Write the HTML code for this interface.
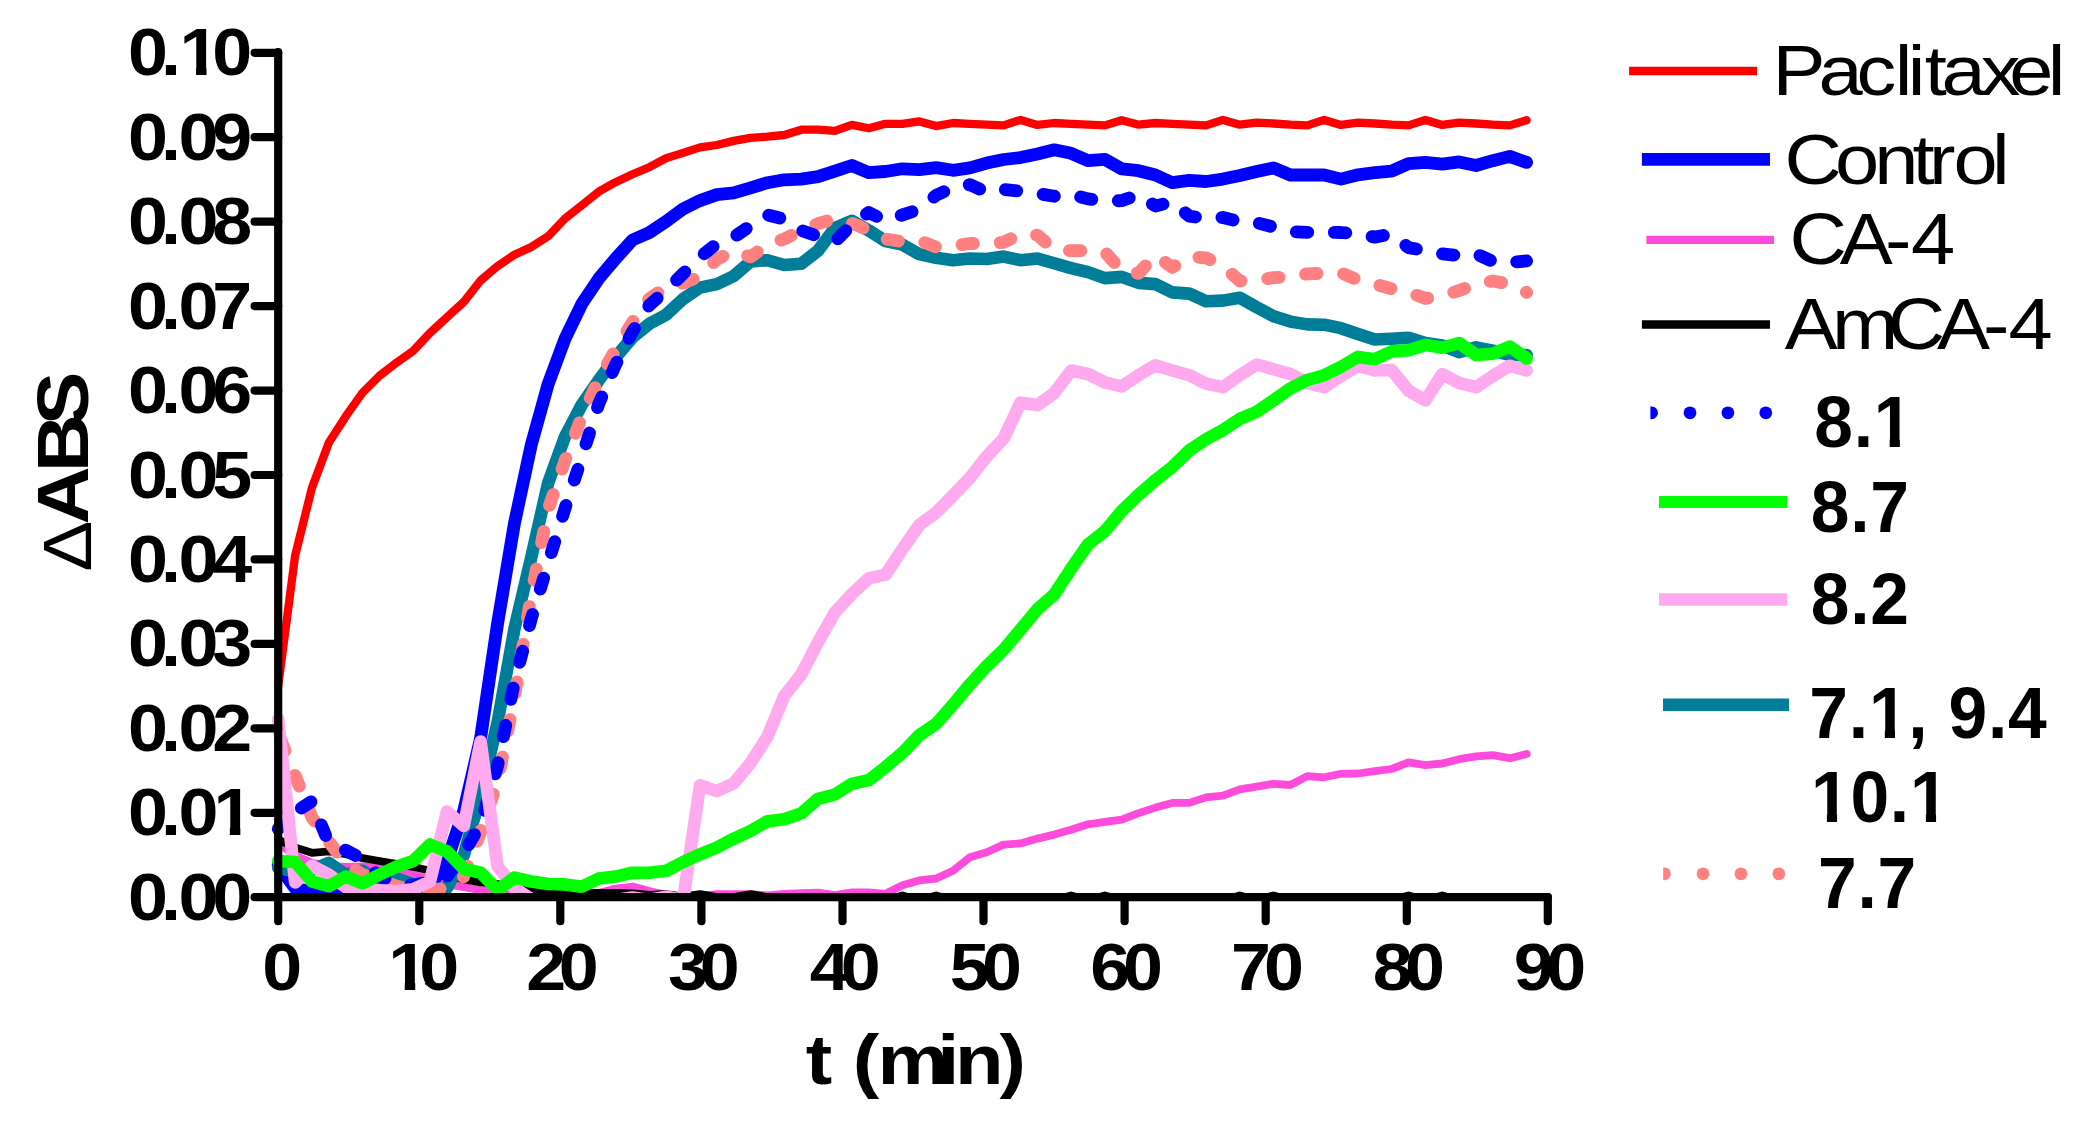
<!DOCTYPE html>
<html lang="en"><head><meta charset="utf-8"><title>Tubulin polymerization</title>
<style>html,body{margin:0;padding:0;background:#fff}body{width:2096px;height:1132px;overflow:hidden}svg{display:block}text{font-family:"Liberation Sans",sans-serif;fill:#000;white-space:pre}</style></head><body>
<svg width="2096" height="1132" viewBox="0 0 2096 1132">
<rect width="2096" height="1132" fill="#fff"/>
<clipPath id="plot"><rect x="0" y="0" width="2096" height="900.5"/></clipPath>
<g fill="none" stroke-linejoin="round" stroke-linecap="round" clip-path="url(#plot)">
<polyline id="c-red" stroke="#ff0000" stroke-width="8.3" points="278.2,686.0 295.1,555.8 311.9,488.0 328.8,442.7 345.7,416.4 362.6,392.6 379.4,375.9 396.3,362.8 413.2,350.8 430.0,332.9 446.9,317.4 463.8,301.9 480.6,280.5 497.5,266.2 514.4,254.7 531.2,247.1 548.1,236.3 565.0,218.5 581.9,205.3 598.7,191.7 615.6,182.2 632.5,174.3 649.3,167.2 666.2,158.1 683.1,152.9 700.0,147.4 716.8,145.0 733.7,140.9 750.6,137.8 767.4,136.6 784.3,135.0 801.2,129.7 818.0,129.7 834.9,130.9 851.8,124.9 868.7,128.3 885.5,123.8 902.4,123.8 919.3,121.4 936.1,126.1 953.0,123.0 969.9,123.8 986.7,124.7 1003.6,125.4 1020.5,119.9 1037.4,124.9 1054.2,123.0 1071.1,123.8 1088.0,124.7 1104.8,125.4 1121.7,120.2 1138.6,124.7 1155.4,123.0 1172.3,123.8 1189.2,124.7 1206.0,125.4 1222.9,119.9 1239.8,124.7 1256.7,122.6 1273.5,123.5 1290.4,124.7 1307.3,125.4 1324.1,119.9 1341.0,124.9 1357.9,122.6 1374.8,123.5 1391.6,124.7 1408.5,125.4 1425.4,119.9 1442.2,124.9 1459.1,122.6 1476.0,123.5 1492.8,124.7 1509.7,125.4 1526.6,120.2"/>
<polyline id="c-mag" stroke="#ff4bdc" stroke-width="7.8" points="278.2,843.5 295.1,855.2 311.9,862.9 328.8,865.9 345.7,866.8 362.6,866.4 379.4,867.8 396.3,870.7 413.2,874.6 430.0,879.5 446.9,884.3 463.8,887.2 480.6,890.2 497.5,892.1 514.4,896.0 531.2,896.0 548.1,896.0 565.0,896.0 581.9,896.0 598.7,893.0 615.6,888.5 632.5,886.5 649.3,891.0 666.2,895.0 683.1,896.5 700.0,896.0 716.8,894.2 733.7,894.2 750.6,894.2 767.4,895.5 784.3,893.8 801.2,893.1 818.0,892.6 834.9,895.0 851.8,892.4 868.7,892.4 885.5,893.8 902.4,885.2 919.3,880.4 936.1,878.5 953.0,870.8 969.9,857.2 986.7,852.2 1003.6,844.6 1020.5,843.4 1037.4,838.6 1054.2,834.6 1071.1,829.8 1088.0,824.3 1104.8,821.9 1121.7,819.6 1138.6,813.1 1155.4,807.6 1172.3,802.9 1189.2,802.9 1206.0,797.4 1222.9,795.7 1239.8,789.3 1256.7,786.6 1273.5,783.8 1290.4,785.0 1307.3,776.1 1324.1,777.3 1341.0,773.8 1357.9,773.5 1374.8,771.1 1391.6,769.0 1408.5,762.3 1425.4,765.2 1442.2,763.5 1459.1,759.2 1476.0,756.3 1492.8,755.1 1509.7,758.2 1526.6,754.0"/>
<polyline id="c-black" stroke="#000000" stroke-width="7.8" points="278.2,839.6 295.1,847.4 311.9,852.8 328.8,851.3 345.7,854.2 362.6,858.1 379.4,861.0 396.3,863.9 413.2,866.8 430.0,870.7 446.9,875.6 463.8,879.5 480.6,882.4 497.5,884.0 514.4,887.0 531.2,889.0 548.1,890.5 565.0,892.0 581.9,893.0 598.7,893.0 615.6,892.8 632.5,893.5 649.3,895.0 666.2,894.0 683.1,896.5 700.0,894.2 716.8,897.0 733.7,897.0 750.6,894.2 767.4,897.0 784.3,897.0 801.2,897.0 818.0,897.0 834.9,897.0 851.8,897.0 868.7,897.0 885.5,897.0 895.9,897.2 902.4,895.5 908.9,897.2 919.3,897.0 929.6,897.2 936.1,895.5 942.6,897.2 953.0,897.0 969.9,897.0 986.7,897.0 1003.6,897.0 1020.5,897.0 1037.4,897.0 1054.2,897.0 1064.6,897.2 1071.1,895.5 1077.6,897.2 1088.0,897.0 1098.3,897.2 1104.8,895.5 1111.3,897.2 1121.7,897.0 1138.6,897.0 1155.4,897.0 1172.3,897.0 1189.2,897.0 1206.0,897.0 1222.9,897.0 1233.3,897.2 1239.8,895.5 1246.3,897.2 1256.7,897.0 1267.0,897.2 1273.5,895.5 1280.0,897.2 1290.4,897.0 1307.3,897.0 1324.1,897.0 1341.0,897.0 1357.9,897.0 1374.8,897.0 1391.6,897.0 1402.0,897.2 1408.5,895.5 1415.0,897.2 1425.4,897.0 1435.7,897.2 1442.2,895.5 1448.7,897.2 1459.1,897.0 1476.0,897.0 1492.8,897.0 1509.7,897.0 1526.6,897.0"/>
<polyline id="c-blue" stroke="#0000ff" stroke-width="12.8" points="278.2,864.9 295.1,888.2 311.9,892.1 328.8,892.5 345.7,892.5 362.6,892.5 379.4,892.5 396.3,892.1 413.2,891.1 430.0,886.3 446.9,861.0 463.8,810.5 480.6,738.0 497.5,624.0 514.4,523.6 531.2,445.1 548.1,384.2 565.0,338.8 581.9,303.7 598.7,278.7 615.6,258.6 632.5,240.0 649.3,232.6 666.2,221.4 683.1,208.9 700.0,200.6 716.8,194.6 733.7,192.9 750.6,187.9 767.4,182.7 784.3,179.8 801.2,179.1 818.0,176.7 834.9,171.2 851.8,165.5 868.7,172.7 885.5,171.5 902.4,168.8 919.3,169.6 936.1,167.6 953.0,170.3 969.9,167.9 986.7,163.1 1003.6,159.5 1020.5,157.6 1037.4,154.0 1054.2,149.8 1071.1,153.3 1088.0,160.7 1104.8,159.3 1121.7,168.8 1138.6,170.7 1155.4,175.0 1172.3,182.7 1189.2,180.3 1206.0,181.5 1222.9,179.1 1239.8,175.5 1256.7,171.5 1273.5,167.9 1290.4,175.0 1307.3,174.8 1324.1,175.0 1341.0,179.1 1357.9,174.8 1374.8,172.7 1391.6,171.2 1408.5,163.6 1425.4,162.4 1442.2,164.1 1459.1,161.9 1476.0,165.5 1492.8,160.7 1509.7,156.4 1526.6,162.4"/>
<polyline id="c-teal" stroke="#007d99" stroke-width="12.6" points="278.2,867.8 295.1,871.7 311.9,869.8 328.8,862.9 345.7,874.6 362.6,870.7 379.4,882.4 396.3,878.5 413.2,884.3 430.0,890.2 446.9,888.2 463.8,855.2 480.6,795.0 497.5,723.0 514.4,629.0 531.2,557.7 548.1,483.2 565.0,436.7 581.9,404.5 598.7,380.3 615.6,357.4 632.5,337.4 649.3,323.8 666.2,314.7 683.1,299.0 700.0,287.6 716.8,284.1 733.7,276.1 750.6,261.5 767.4,260.2 784.3,265.0 801.2,263.8 818.0,250.7 834.9,228.0 851.8,220.8 868.7,230.4 885.5,241.1 902.4,244.7 919.3,254.2 936.1,257.8 953.0,260.2 969.9,258.5 986.7,259.0 1003.6,256.6 1020.5,260.2 1037.4,258.5 1054.2,263.3 1071.1,268.1 1088.0,272.1 1104.8,278.1 1121.7,276.9 1138.6,282.9 1155.4,284.1 1172.3,292.4 1189.2,293.6 1206.0,301.3 1222.9,300.6 1239.8,297.7 1256.7,307.3 1273.5,316.3 1290.4,321.6 1307.3,324.4 1324.1,324.7 1341.0,328.2 1357.9,334.0 1374.8,339.5 1391.6,338.7 1408.5,337.8 1425.4,343.0 1442.2,345.4 1459.1,352.1 1476.0,347.3 1492.8,350.7 1509.7,355.0 1526.6,355.0"/>
<polyline id="c-salmon" stroke="#ff8080" stroke-width="12.8" stroke-dasharray="11.5 26.75" stroke-dashoffset="31.6" points="278.2,733.7 295.1,775.5 311.9,817.3 328.8,841.6 345.7,863.9 362.6,874.6 379.4,880.0 396.3,886.0 413.2,890.0 430.0,890.0 446.9,888.0 463.8,876.6 480.6,831.9 497.5,781.7 514.4,697.7 531.2,595.1 548.1,509.5 565.0,460.6 581.9,416.4 598.7,379.5 615.6,349.5 632.5,322.3 649.3,298.7 666.2,287.3 683.1,283.0 700.0,276.5 716.8,259.4 733.7,250.8 750.6,256.9 767.4,244.7 784.3,239.0 801.2,230.4 818.0,223.7 834.9,218.5 851.8,223.2 868.7,230.4 885.5,239.0 902.4,241.6 919.3,240.4 936.1,247.1 953.0,245.9 969.9,243.5 986.7,243.5 1003.6,242.3 1020.5,234.0 1037.4,235.2 1054.2,249.5 1071.1,250.7 1088.0,250.7 1104.8,251.9 1121.7,270.9 1138.6,273.3 1155.4,255.4 1172.3,267.4 1189.2,256.6 1206.0,257.8 1222.9,266.2 1239.8,281.0 1256.7,280.5 1273.5,277.6 1290.4,276.9 1307.3,273.8 1324.1,273.3 1341.0,272.8 1357.9,280.0 1374.8,284.1 1391.6,288.8 1408.5,292.4 1425.4,298.4 1442.2,296.0 1459.1,290.5 1476.0,284.1 1492.8,281.0 1509.7,284.1 1526.6,292.4"/>
<polyline id="c-bdash" stroke="#0000ff" stroke-width="12.8" stroke-dasharray="11.5 26.55" stroke-dashoffset="6.8" points="278.2,828.9 295.1,812.0 311.9,801.2 328.8,843.5 345.7,850.3 362.6,859.1 379.4,876.6 396.3,882.4 413.2,885.3 430.0,881.4 446.9,876.6 463.8,853.2 480.6,824.1 497.5,766.2 514.4,682.2 531.2,619.0 548.1,563.4 565.0,508.3 581.9,457.0 598.7,404.0 615.6,364.6 632.5,331.6 649.3,305.2 666.2,290.1 683.1,273.7 700.0,257.2 716.8,243.6 733.7,237.2 750.6,225.7 767.4,214.9 784.3,219.2 801.2,230.4 818.0,236.3 834.9,241.8 851.8,224.4 868.7,212.5 885.5,220.8 902.4,214.9 919.3,209.4 936.1,195.3 953.0,187.4 969.9,184.6 986.7,192.2 1003.6,189.4 1020.5,191.3 1037.4,193.4 1054.2,196.3 1071.1,194.6 1088.0,198.9 1104.8,201.3 1121.7,200.6 1138.6,194.6 1155.4,206.0 1172.3,201.8 1189.2,216.1 1206.0,218.5 1222.9,217.5 1239.8,221.6 1256.7,222.7 1273.5,227.0 1290.4,231.6 1307.3,232.3 1324.1,232.3 1341.0,232.5 1357.9,234.0 1374.8,237.1 1391.6,234.0 1408.5,247.6 1425.4,250.7 1442.2,253.8 1459.1,255.7 1476.0,253.8 1492.8,261.4 1509.7,262.6 1526.6,260.9"/>
<polyline id="c-pink" stroke="#ffaaee" stroke-width="12.6" points="278.2,719.1 295.1,882.4 311.9,865.9 328.8,874.6 345.7,887.2 362.6,889.2 379.4,890.2 396.3,891.1 413.2,889.2 430.0,881.4 446.9,811.5 463.8,826.0 480.6,741.5 497.5,866.0 514.4,888.0 531.2,899.0 548.1,900.0 565.0,900.0 581.9,900.0 598.7,900.0 615.6,900.0 632.5,897.5 649.3,900.0 666.2,896.8 683.1,900.0 700.0,785.3 716.8,791.1 733.7,783.3 750.6,762.9 767.4,736.7 784.3,695.8 801.2,674.4 818.0,642.2 834.9,612.4 851.8,594.0 868.7,578.3 885.5,574.7 902.4,549.2 919.3,524.8 936.1,512.7 953.0,495.5 969.9,477.8 986.7,456.3 1003.6,438.5 1020.5,402.7 1037.4,405.1 1054.2,393.1 1071.1,370.5 1088.0,374.0 1104.8,382.4 1121.7,386.5 1138.6,375.2 1155.4,365.2 1172.3,370.5 1189.2,375.2 1206.0,383.6 1222.9,387.2 1239.8,375.2 1256.7,364.5 1273.5,369.3 1290.4,374.0 1307.3,383.1 1324.1,387.2 1341.0,376.0 1357.9,365.7 1374.8,370.5 1391.6,370.0 1408.5,390.7 1425.4,400.3 1442.2,374.0 1459.1,383.1 1476.0,387.2 1492.8,376.0 1509.7,365.7 1526.6,370.5"/>
<polyline id="c-green" stroke="#00ff00" stroke-width="12.6" points="278.2,861.0 295.1,862.0 311.9,881.4 328.8,886.3 345.7,876.6 362.6,883.4 379.4,874.6 396.3,866.8 413.2,861.0 430.0,844.5 446.9,851.3 463.8,868.8 480.6,872.7 497.5,890.2 514.4,877.6 531.2,881.5 548.1,884.0 565.0,884.4 581.9,886.7 598.7,878.6 615.6,876.6 632.5,872.7 649.3,872.7 666.2,870.8 683.1,862.0 700.0,854.3 716.8,847.5 733.7,838.7 750.6,830.9 767.4,821.2 784.3,819.3 801.2,813.4 818.0,798.8 834.9,794.5 851.8,783.8 868.7,780.2 885.5,767.1 902.4,752.8 919.3,735.2 936.1,723.8 953.0,704.7 969.9,684.4 986.7,666.1 1003.6,649.8 1020.5,629.6 1037.4,609.3 1054.2,594.5 1071.1,568.7 1088.0,544.4 1104.8,531.3 1121.7,511.0 1138.6,494.8 1155.4,480.2 1172.3,467.1 1189.2,450.4 1206.0,439.2 1222.9,430.1 1239.8,418.9 1256.7,411.7 1273.5,400.3 1290.4,388.4 1307.3,380.0 1324.1,375.2 1341.0,366.9 1357.9,356.9 1374.8,359.3 1391.6,351.4 1408.5,350.2 1425.4,344.9 1442.2,347.8 1459.1,343.0 1476.0,355.0 1492.8,353.8 1509.7,346.6 1526.6,358.5"/>
</g>
<g stroke="#000" stroke-width="8.2" stroke-linecap="round" fill="none">
<path d="M278.2 52.0 V921.2"/>
<path d="M278.2 897.2 H1547.8"/>
<path d="M254.6 897.2 H278.2"/>
<path d="M254.6 812.8 H278.2"/>
<path d="M254.6 728.3 H278.2"/>
<path d="M254.6 643.9 H278.2"/>
<path d="M254.6 559.4 H278.2"/>
<path d="M254.6 475.0 H278.2"/>
<path d="M254.6 390.6 H278.2"/>
<path d="M254.6 306.1 H278.2"/>
<path d="M254.6 221.7 H278.2"/>
<path d="M254.6 137.2 H278.2"/>
<path d="M254.6 52.8 H278.2"/>
<path d="M419.3 897.2 V921.2"/>
<path d="M560.3 897.2 V921.2"/>
<path d="M701.4 897.2 V921.2"/>
<path d="M842.5 897.2 V921.2"/>
<path d="M983.5 897.2 V921.2"/>
<path d="M1124.6 897.2 V921.2"/>
<path d="M1265.7 897.2 V921.2"/>
<path d="M1406.8 897.2 V921.2"/>
<path d="M1547.8 897.2 V921.2"/>
</g>
<text transform="matrix(1.0830 0 0 1 0 919.80)" x="118.10 148.76 164.92 195.95" y="0" font-size="66.30" font-weight="bold" >0.00</text>
<clipPath id="k1"><path clip-rule="evenodd" d="M-5000 -5000H5000V5000H-5000ZM199.90 -8.09L212.24 -8.09L212.24 1.99L199.90 1.99ZM221.92 -8.09L233.39 -8.09L233.39 1.99L221.92 1.99Z"/></clipPath><text transform="matrix(1.0830 0 0 1 0 835.36)" x="118.10 148.76 164.92 197.05" y="0" font-size="66.30" font-weight="bold"  clip-path="url(#k1)">0.01</text>
<text transform="matrix(1.0830 0 0 1 0 750.92)" x="118.10 148.76 164.92 195.95" y="0" font-size="66.30" font-weight="bold" >0.02</text>
<text transform="matrix(1.0830 0 0 1 0 666.48)" x="118.10 148.76 164.92 195.95" y="0" font-size="66.30" font-weight="bold" >0.03</text>
<text transform="matrix(1.0830 0 0 1 0 582.04)" x="118.10 148.76 164.92 195.95" y="0" font-size="66.30" font-weight="bold" >0.04</text>
<text transform="matrix(1.0830 0 0 1 0 497.60)" x="118.10 148.76 164.92 195.95" y="0" font-size="66.30" font-weight="bold" >0.05</text>
<text transform="matrix(1.0830 0 0 1 0 413.16)" x="118.10 148.76 164.92 195.95" y="0" font-size="66.30" font-weight="bold" >0.06</text>
<text transform="matrix(1.0830 0 0 1 0 328.72)" x="118.10 148.76 164.92 195.95" y="0" font-size="66.30" font-weight="bold" >0.07</text>
<text transform="matrix(1.0830 0 0 1 0 244.28)" x="118.10 148.76 164.92 195.95" y="0" font-size="66.30" font-weight="bold" >0.08</text>
<text transform="matrix(1.0830 0 0 1 0 159.84)" x="118.10 148.76 164.92 195.95" y="0" font-size="66.30" font-weight="bold" >0.09</text>
<clipPath id="k2"><path clip-rule="evenodd" d="M-5000 -5000H5000V5000H-5000ZM168.69 -8.09L181.03 -8.09L181.03 1.99L168.69 1.99ZM190.70 -8.09L200.17 -8.09L202.17 -3.98L202.17 -1.33L202.17 -0.00L202.17 0.80L202.17 1.99L190.70 1.99Z"/></clipPath><text transform="matrix(1.0830 0 0 1 0 75.40)" x="118.10 148.76 165.84 195.95" y="0" font-size="66.30" font-weight="bold"  clip-path="url(#k2)">0.10</text>
<text transform="matrix(1.0830 0 0 1 0 990.20)" x="242.15" y="0" font-size="66.30" font-weight="bold" >0</text>
<clipPath id="k3"><path clip-rule="evenodd" d="M-5000 -5000H5000V5000H-5000ZM361.41 -8.09L373.74 -8.09L373.74 1.99L361.41 1.99ZM383.42 -8.09L391.31 -8.09L393.76 -3.98L394.89 -1.33L394.89 -0.00L394.89 0.80L394.89 1.99L383.42 1.99Z"/></clipPath><text transform="matrix(1.0830 0 0 1 0 990.20)" x="358.56 387.09" y="0" font-size="66.30" font-weight="bold"  clip-path="url(#k3)">10</text>
<text transform="matrix(1.0830 0 0 1 0 990.20)" x="485.85 515.86" y="0" font-size="66.30" font-weight="bold" >20</text>
<text transform="matrix(1.0830 0 0 1 0 990.20)" x="616.89 646.12" y="0" font-size="66.30" font-weight="bold" >30</text>
<text transform="matrix(1.0830 0 0 1 0 990.20)" x="747.67 776.39" y="0" font-size="66.30" font-weight="bold" >40</text>
<text transform="matrix(1.0830 0 0 1 0 990.20)" x="876.90 906.65" y="0" font-size="66.30" font-weight="bold" >50</text>
<text transform="matrix(1.0830 0 0 1 0 990.20)" x="1006.77 1036.91" y="0" font-size="66.30" font-weight="bold" >60</text>
<text transform="matrix(1.0830 0 0 1 0 990.20)" x="1136.62 1167.18" y="0" font-size="66.30" font-weight="bold" >70</text>
<text transform="matrix(1.0830 0 0 1 0 990.20)" x="1267.62 1297.44" y="0" font-size="66.30" font-weight="bold" >80</text>
<text transform="matrix(1.0830 0 0 1 0 990.20)" x="1397.69 1427.71" y="0" font-size="66.30" font-weight="bold" >90</text>
<text transform="matrix(1.1357 0 0 1 0 1084.00)" x="709.45 735.22 750.93 772.69 825.16 840.93 880.17" y="0" font-size="70.00" font-weight="bold" >t (min)</text>
<text transform="rotate(-90) matrix(1.1027 0 0 1 0 0)" x="-518.31 -475.73 -428.37 -385.69" y="91.10 88.30 88.30 88.30" font-size="73.00" font-weight="bold"><tspan font-weight="normal" font-size="69.00">Δ</tspan>ABS</text>
<g fill="none">
<path stroke="#ff0000" stroke-width="8.3" d="M1629.1 71 H1757"/>
<path stroke="#0000ff" stroke-width="12.8" d="M1641.9 159.4 H1770"/>
<path stroke="#ff4bdc" stroke-width="8.3" d="M1646.4 239.9 H1774"/>
<path stroke="#000" stroke-width="8.5" d="M1641.9 324.4 H1770"/>
<path stroke="#00ff00" stroke-width="12" d="M1659 502 H1787"/>
<path stroke="#ffaaee" stroke-width="12.6" d="M1659 599.5 H1787"/>
<path stroke="#007d99" stroke-width="12.6" d="M1663 704.8 H1789"/>
</g>
<g fill="#0000ff"><path d="M1650.4 406.4 h1.2 a6.4 6.4 0 0 1 0 12.8 h-1.2 z"/><circle cx="1690.0" cy="412.8" r="6.4"/><circle cx="1727.9" cy="412.8" r="6.4"/><circle cx="1765.8" cy="412.8" r="6.4"/></g>
<g fill="#ff8080"><path d="M1663.2 867.4 h1.2 a6.4 6.4 0 0 1 0 12.8 h-1.2 z"/><circle cx="1703.0" cy="873.8" r="6.4"/><circle cx="1740.9" cy="873.8" r="6.4"/><circle cx="1778.8" cy="873.8" r="6.4"/></g>
<text transform="matrix(1.1229 0 0 1 0 94.80)" x="1578.42 1619.43 1653.36 1687.30 1699.01 1714.16 1729.05 1763.86 1789.35 1823.65" y="0" font-size="70.80" font-weight="normal" >Paclitaxel</text>
<text transform="matrix(1.1229 0 0 1 0 183.90)" x="1589.27 1634.24 1669.12 1703.12 1717.92 1739.69 1773.96" y="0" font-size="70.80" font-weight="normal" >Control</text>
<text transform="matrix(1.0996 0 0 1 0 263.70)" x="1627.49 1673.04 1714.25 1737.82" y="0" font-size="72.30" font-weight="normal" >CA-4</text>
<text transform="matrix(1.0996 0 0 1 0 348.80)" x="1623.20 1666.10 1716.70 1761.61 1803.38 1826.48" y="0" font-size="72.30" font-weight="normal" >AmCA-4</text>
<clipPath id="k4"><path clip-rule="evenodd" d="M-5000 -5000H5000V5000H-5000ZM1957.62 -8.86L1971.13 -8.86L1971.13 2.18L1957.62 2.18ZM1981.73 -8.86L1994.29 -8.86L1994.29 2.18L1981.73 2.18Z"/></clipPath><text transform="matrix(0.9587 0 0 1 0 446.60)" x="1892.39 1933.55 1954.50" y="0" font-size="72.60" font-weight="bold"  clip-path="url(#k4)">8.1</text>
<text transform="matrix(0.9587 0 0 1 0 531.60)" x="1888.84 1930.00 1950.95" y="0" font-size="72.60" font-weight="bold" >8.7</text>
<text transform="matrix(0.9587 0 0 1 0 624.10)" x="1888.84 1930.00 1950.95" y="0" font-size="72.60" font-weight="bold" >8.2</text>
<clipPath id="k5"><path clip-rule="evenodd" d="M-5000 -5000H5000V5000H-5000ZM1952.53 -8.86L1966.03 -8.86L1966.03 2.18L1952.53 2.18ZM1976.63 -8.86L1989.19 -8.86L1989.19 2.18L1976.63 2.18Z"/></clipPath><text transform="matrix(0.9587 0 0 1 0 738.20)" x="1887.30 1928.46 1949.41 1990.57 2011.52 2032.47 2073.63 2094.59" y="0" font-size="72.60" font-weight="bold"  clip-path="url(#k5)">7.1, 9.4</text>
<clipPath id="k6"><path clip-rule="evenodd" d="M-5000 -5000H5000V5000H-5000ZM1892.09 -8.86L1905.60 -8.86L1905.60 2.18L1892.09 2.18ZM1916.20 -8.86L1928.76 -8.86L1928.76 2.18L1916.20 2.18ZM1995.37 -8.86L2008.87 -8.86L2008.87 2.18L1995.37 2.18ZM2019.47 -8.86L2032.03 -8.86L2032.03 2.18L2019.47 2.18Z"/></clipPath><text transform="matrix(0.9587 0 0 1 0 821.60)" x="1888.97 1930.13 1971.29 1992.24" y="0" font-size="72.60" font-weight="bold"  clip-path="url(#k6)">10.1</text>
<text transform="matrix(0.9587 0 0 1 0 907.70)" x="1896.37 1937.53 1958.48" y="0" font-size="72.60" font-weight="bold" >7.7</text>
</svg></body></html>
